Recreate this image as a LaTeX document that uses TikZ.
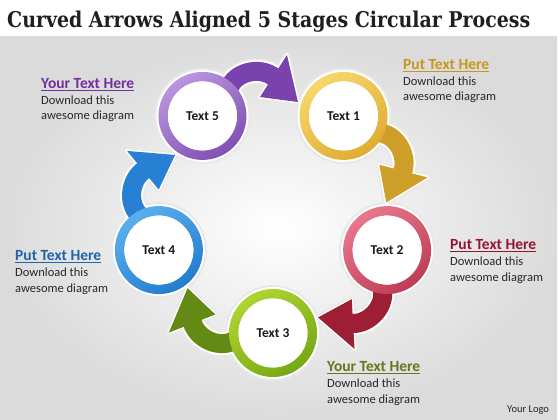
\documentclass[tikz,border=0pt]{standalone}
\usepackage{fontspec}
\setmainfont{Carlito}
\newfontfamily\titlefont{DejaVu Serif}
\usetikzlibrary{shadows}
\definecolor{purL}{RGB}{185,150,222}
\definecolor{purD}{RGB}{128,80,178}
\definecolor{purA}{RGB}{122,66,172}
\definecolor{purH}{RGB}{112,48,160}
\definecolor{yelL}{RGB}{248,215,110}
\definecolor{yelD}{RGB}{222,172,50}
\definecolor{yelA}{RGB}{205,158,40}
\definecolor{yelH}{RGB}{200,150,30}
\definecolor{redL}{RGB}{232,120,140}
\definecolor{redD}{RGB}{190,60,85}
\definecolor{redA}{RGB}{158,30,52}
\definecolor{redH}{RGB}{150,20,50}
\definecolor{grnL}{RGB}{175,212,50}
\definecolor{grnD}{RGB}{118,168,20}
\definecolor{grnA}{RGB}{98,138,20}
\definecolor{grnH}{RGB}{100,118,30}
\definecolor{bluL}{RGB}{90,175,238}
\definecolor{bluD}{RGB}{35,125,205}
\definecolor{bluA}{RGB}{40,128,210}
\definecolor{bluH}{RGB}{30,100,170}
\definecolor{bodyC}{RGB}{40,40,40}
\tikzset{
  headtxt/.style={anchor=base west, inner sep=0pt, font=\fontsize{15.5}{18}\selectfont\bfseries, text=#1},
  bodytxt/.style={anchor=base west, inner sep=0pt, font=\fontsize{12.5}{15}\selectfont, text=bodyC},
  stagelbl/.style={circle, inner sep=0pt, minimum size=60pt, font=\fontsize{13.5}{16}\selectfont\bfseries, text=black!90},
  uline/.style={line width=1.3pt, draw=#1}
}
\begin{document}
\begin{tikzpicture}[x=1pt,y=1pt]
\useasboundingbox (0,0) rectangle (560,-420);
\fill[white] (0,0) rectangle (560,-420);
\shade[inner color=white, outer color=black!14] (0,-37) rectangle (557,-420);
% title
\node[anchor=base west, inner sep=0pt, text=black!88] (title) at (7,-28)
  {\resizebox{523pt}{16.5pt}{\titlefont\bfseries Curved Arrows Aligned 5 Stages Circular Process}};
% centres of the five stages
\path (273,-213) ++(126:120) coordinate (p5);
\path (273,-213) ++(54:120) coordinate (p1);
\path (273,-213) ++(-18:120) coordinate (p2);
\path (273,-213) ++(-90:120) coordinate (p3);
\path (273,-213) ++(-162:120) coordinate (p4);
% halos
\foreach \s/\r in {p5/0, p1/-72, p2/-144, p3/-216, p4/-288} {
  \begin{scope}[shift={(\s)}, rotate=\r]
    \draw[black!9, line width=26pt] (27.5,29.9) .. controls (35.5,45.9) and (62,50) .. (74.5,36);
    \draw[black!9, line width=6pt, line join=round, fill=black!9] (84.5,60.9) -- (95.5,13.9) -- (57.5,18.9) -- cycle;
  \end{scope}
  \fill[black!9] (\s) circle (48);
}
% white outlines
\foreach \s/\r in {p5/0, p1/-72, p2/-144, p3/-216, p4/-288} {
  \begin{scope}[shift={(\s)}, rotate=\r]
    \draw[white, line width=23pt] (27.5,29.9) .. controls (35.5,45.9) and (62,50) .. (74.5,36);
    \draw[white, line width=3pt, line join=round, fill=white] (84.5,60.9) -- (95.5,13.9) -- (57.5,18.9) -- cycle;
  \end{scope}
  \fill[white] (\s) circle (46);
}
% coloured arrows
\foreach \s/\r/\c in {p5/0/purA, p1/-72/yelA, p2/-144/redA, p3/-216/grnA, p4/-288/bluA} {
  \begin{scope}[shift={(\s)}, rotate=\r]
    \draw[\c, line width=19pt] (27.5,29.9) .. controls (35.5,45.9) and (62,50) .. (74.5,36);
    \fill[\c] (84.5,60.9) -- (95.5,13.9) -- (57.5,18.9) -- cycle;
  \end{scope}
}
% rings
\foreach \s/\a/\b in {p5/purL/purD, p1/yelL/yelD, p2/redL/redD, p3/grnL/grnD, p4/bluL/bluD} {
  \shade[even odd rule, top color=\a, bottom color=\b, shading angle=35] (\s) circle (44) (\s) circle (34.5);
  \fill[white] (\s) circle (34.5);
}
% stage labels
\node[stagelbl] (c1) at (p1) {Text 1};
\node[stagelbl] (c2) at (p2) {Text 2};
\node[stagelbl] (c3) at (p3) {Text 3};
\node[stagelbl] (c4) at (p4) {Text 4};
\node[stagelbl] (c5) at (p5) {Text 5};
% text blocks
\node[headtxt=purH] (h5) at (41,-88.5) {Your Text Here};
\draw[uline=purH] ([yshift=-2.2pt]h5.base west) -- ([yshift=-2.2pt]h5.base east);
\node[bodytxt] (b5a) at (41,-104.5) {Download this};
\node[bodytxt] (b5b) at (41,-120) {awesome diagram};

\node[headtxt=yelH] (h1) at (403,-69.5) {Put Text Here};
\draw[uline=yelH] ([yshift=-2.2pt]h1.base west) -- ([yshift=-2.2pt]h1.base east);
\node[bodytxt] (b1a) at (403,-85.5) {Download this};
\node[bodytxt] (b1b) at (403,-101) {awesome diagram};

\node[headtxt=redH] (h2) at (450,-249.5) {Put Text Here};
\draw[uline=redH] ([yshift=-2.2pt]h2.base west) -- ([yshift=-2.2pt]h2.base east);
\node[bodytxt] (b2a) at (450,-265.5) {Download this};
\node[bodytxt] (b2b) at (450,-281) {awesome diagram};

\node[headtxt=grnH] (h3) at (327,-371.5) {Your Text Here};
\draw[uline=grnH] ([yshift=-2.2pt]h3.base west) -- ([yshift=-2.2pt]h3.base east);
\node[bodytxt] (b3a) at (327,-387.5) {Download this};
\node[bodytxt] (b3b) at (327,-403) {awesome diagram};

\node[headtxt=bluH] (h4) at (15,-260.5) {Put Text Here};
\draw[uline=bluH] ([yshift=-2.2pt]h4.base west) -- ([yshift=-2.2pt]h4.base east);
\node[bodytxt] (b4a) at (15,-276.5) {Download this};
\node[bodytxt] (b4b) at (15,-292) {awesome diagram};

\node[anchor=base west, inner sep=0pt, font=\fontsize{10.5}{12}\selectfont, text=black!85] (logo) at (507,-412.5) {Your Logo};
\end{tikzpicture}
\end{document}
